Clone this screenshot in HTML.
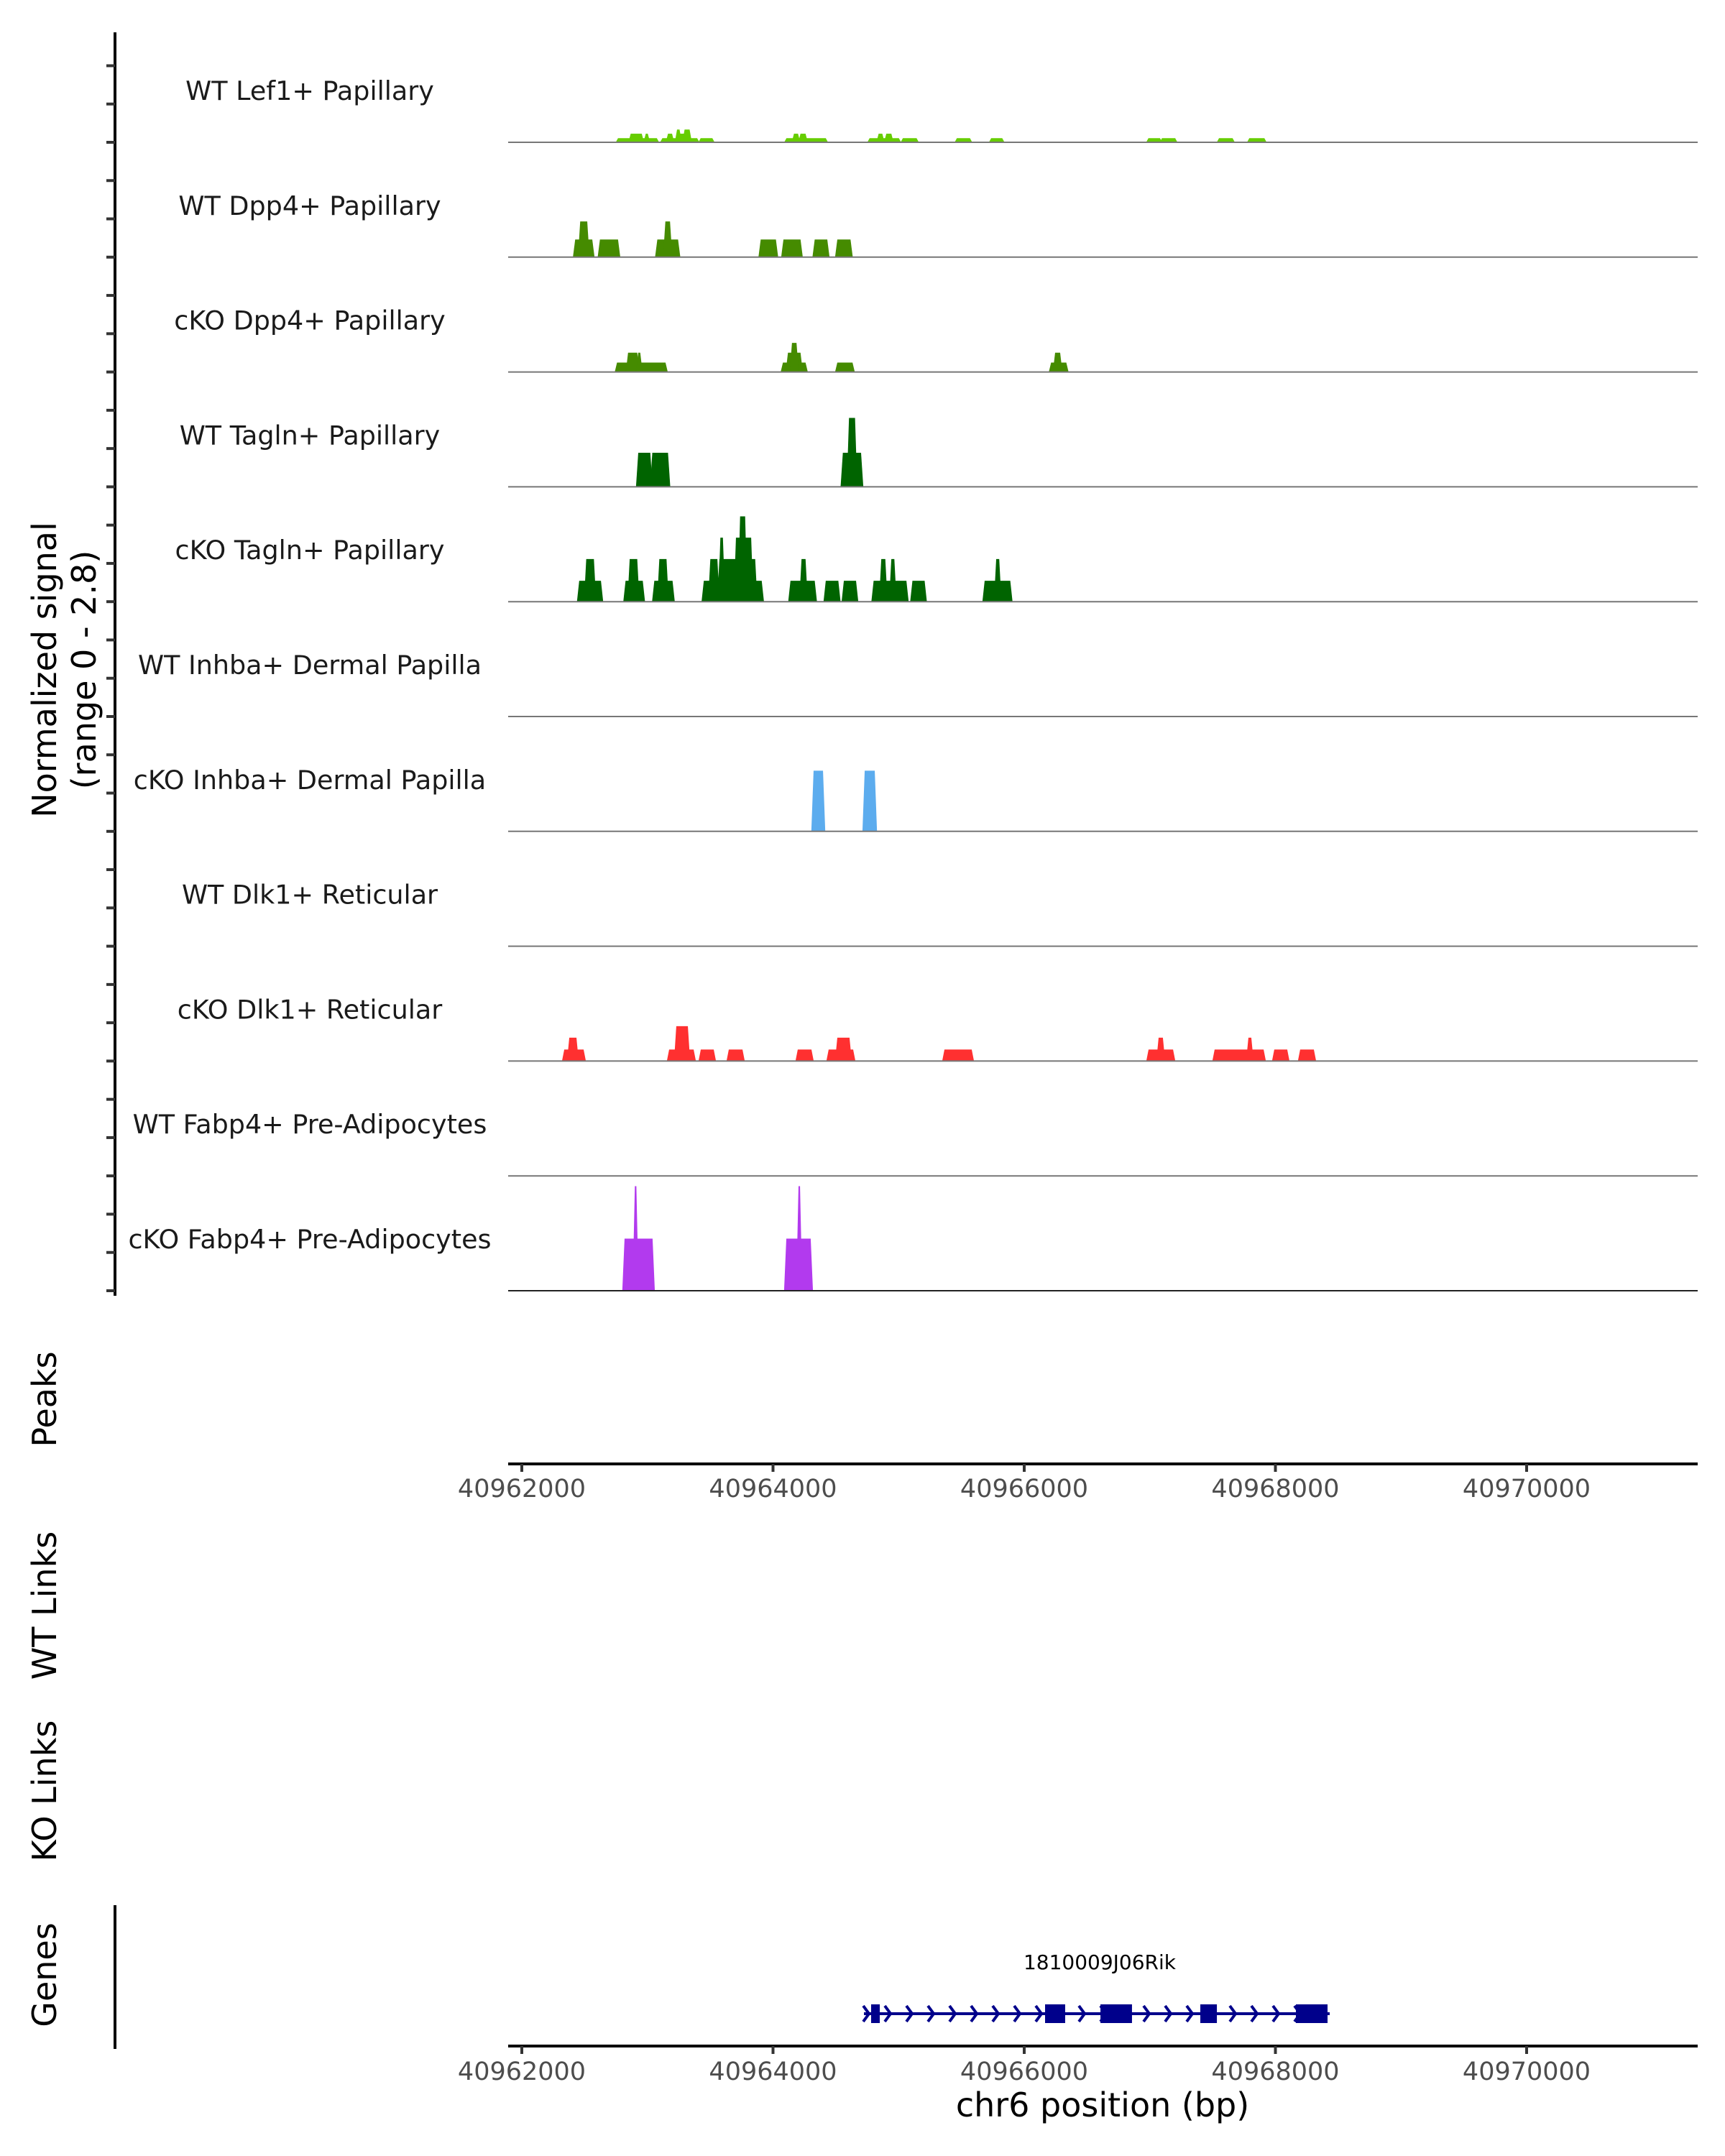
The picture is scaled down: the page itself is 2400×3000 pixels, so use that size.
<!DOCTYPE html>
<html><head><meta charset="utf-8"><style>
html,body{margin:0;padding:0;background:#fff}
svg{display:block}
text{font-family:"DejaVu Sans","Liberation Sans",sans-serif}
</style></head><body>
<svg id="chart" width="2400" height="3000" viewBox="0 0 2400 3000" xmlns="http://www.w3.org/2000/svg">
<rect width="2400" height="3000" fill="#fff"/>
<g id="tracks"></g>
<line x1="160" y1="45" x2="160" y2="1803" stroke="#000" stroke-width="4"/>
<g id="yticks"></g>
<text transform="translate(78,932) rotate(-90)" text-anchor="middle" font-size="46" fill="#000">Normalized signal</text>
<text transform="translate(133,932) rotate(-90)" text-anchor="middle" font-size="46" fill="#000">(range 0 - 2.8)</text>
<text transform="translate(78,1947) rotate(-90)" text-anchor="middle" font-size="46" fill="#000">Peaks</text>
<text transform="translate(78,2234) rotate(-90)" text-anchor="middle" font-size="46" fill="#000">WT Links</text>
<text transform="translate(78,2492) rotate(-90)" text-anchor="middle" font-size="46" fill="#000">KO Links</text>
<text transform="translate(78,2748) rotate(-90)" text-anchor="middle" font-size="46" fill="#000">Genes</text>
<line x1="160" y1="2651" x2="160" y2="2851" stroke="#000" stroke-width="4"/>
<g id="peaksaxis"></g>
<g id="genes"></g>
<g id="genesaxis"></g>
<text x="1534" y="2945" text-anchor="middle" font-size="46" fill="#000">chr6 position (bp)</text>
</svg>
<script>
const trackNames = ["WT Lef1+ Papillary","WT Dpp4+ Papillary","cKO Dpp4+ Papillary","WT Tagln+ Papillary","cKO Tagln+ Papillary","WT Inhba+ Dermal Papilla","cKO Inhba+ Dermal Papilla","WT Dlk1+ Reticular","cKO Dlk1+ Reticular","WT Fabp4+ Pre-Adipocytes","cKO Fabp4+ Pre-Adipocytes"];
const trackColors = ["#66CD00","#458B00","#458B00","#006400","#006400","#7CB5EC","#5CACEE","#E06666","#FF3030","#B23AEE","#B23AEE"];
const lef1 = [[40962766,40963075,.10],[40962867,40962955,.21],[40962987,40963003,.21],[40963119,40963396,.10],[40963164,40963196,.21],[40963236,40963256,.31],[40963256,40963296,.21],[40963296,40963336,.31],[40963424,40963517,.10],[40964107,40964420,.10],[40964167,40964199,.21],[40964219,40964259,.21],[40964769,40965002,.10],[40964841,40964870,.21],[40964902,40964942,.21],[40965034,40965143,.10],[40965464,40965568,.10],[40965737,40965825,.10],[40966989,40967081,.10],[40967097,40967202,.10],[40967551,40967659,.10],[40967792,40967912,.10]];
const wtDpp4 = [[40962425,40962561,.43],[40962465,40962521,.87],[40962622,40962766,.43],[40963079,40963244,.43],[40963143,40963180,.87],[40963902,40964023,.43],[40964083,40964219,.43],[40964332,40964432,.43],[40964512,40964617,.43]];
const koDpp4 = [[40962758,40963144,.23],[40962846,40962919,.47],[40962927,40962943,.47],[40964079,40964259,.23],[40964119,40964219,.47],[40964151,40964187,.71],[40964512,40964633,.23],[40966214,40966335,.23],[40966246,40966286,.47]];
const wtTagln = [[40962927,40963023,.83],[40963039,40963164,.83],[40964556,40964701,.83],[40964605,40964653,1.68]];
const koTagln = [[40962457,40962630,.51],[40962513,40962574,1.04],[40962826,40962963,.51],[40962859,40962919,1.04],[40963055,40963200,.51],[40963095,40963152,1.04],[40963449,40963910,.51],[40963501,40963557,1.04],[40963573,40963858,1.04],[40963581,40963601,1.56],[40963705,40963826,1.56],[40963738,40963778,2.08],[40964139,40964332,.51],[40964227,40964259,1.04],[40964420,40964520,.51],[40964564,40964661,.51],[40964801,40965062,.51],[40964862,40964894,1.04],[40964942,40964966,1.04],[40965110,40965207,.51],[40965685,40965889,.51],[40965777,40965801,1.04]];
const wtInhba = [];
const koInhba = [[40964323,40964398,1.48],[40964730,40964810,1.48]];
const wtDlk1 = [];
const koDlk1 = [[40962338,40962492,.28],[40962378,40962435,.57],[40963173,40963368,.28],[40963230,40963322,.85],[40963425,40963528,.28],[40963648,40963757,.28],[40964197,40964306,.28],[40964443,40964638,.28],[40964512,40964609,.57],[40965365,40965582,.28],[40966990,40967185,.28],[40967070,40967104,.57],[40967516,40967906,.28],[40967785,40967808,.57],[40967991,40968094,.28],[40968197,40968306,.28]];
const wtFabp4 = [];
const koFabp4 = [[40962818,40963041,1.27],[40962860,40962960,1.27],[40962900,40962912,2.55],[40964106,40964300,1.27],[40964150,40964260,1.27],[40964203,40964215,2.55]];
const trackData = [lef1,wtDpp4,koDpp4,wtTagln,koTagln,wtInhba,koInhba,wtDlk1,koDlk1,wtFabp4,koFabp4];
const xTicks = [40962000,40964000,40966000,40968000,40970000];
const geneName = "1810009J06Rik";
const geneSpan = [40964724,40968432];
const exons = [[40964781,40964850],[40966166,40966326],[40966607,40966858],[40967402,40967534],[40968163,40968415]];

const NS="http://www.w3.org/2000/svg";
const X0=707, X1=2362;
function xScale(bp){return 726+(bp-40962000)*0.17475;}
const yMax=2.8, trackH=159.8, base0=198;
function baseY(i){return base0+i*trackH;}
function yScale(v,i){return baseY(i)-v/yMax*trackH;}
function mk(tag,attrs,parent){const e=document.createElementNS(NS,tag);for(const k in attrs)e.setAttribute(k,attrs[k]);parent.appendChild(e);return e;}

const tg=document.getElementById('tracks');
trackNames.forEach((name,i)=>{
  const g=mk('g',{},tg);
  
  
  trackData[i].forEach(seg=>{
    const t=18;
    const xa=xScale(seg[0]-t), xb=xScale(seg[0]), xc=xScale(seg[1]), xd=xScale(seg[1]+t);
    const yb=baseY(i), yt=yScale(seg[2],i);
    const p=mk('polygon',{points:`${xa},${yb} ${xb},${yt} ${xc},${yt} ${xd},${yb}`,fill:trackColors[i]},g);
    
    
  });
  const ln=mk('line',{x1:X0,x2:X1,y1:baseY(i),y2:baseY(i),stroke:i===10?'#222':'#777','stroke-width':2},g);
  
  
  const tx=mk('text',{x:431,y:baseY(i)-59,'text-anchor':'middle','font-size':36.5,fill:'#1a1a1a'},g);
  tx.textContent=name;
  
  
});
const yt=document.getElementById('yticks');
for(let i=0;i<11;i++){for(let k=0;k<3;k++){
  const y=baseY(i)-k*trackH/3;
  const l=mk('line',{x1:148,x2:160,y1:y,y2:y,stroke:'#333','stroke-width':4},yt);
  
  
}}
function drawAxis(gid,y,labelY){
  const g=document.getElementById(gid);
  const l=mk('line',{x1:X0,x2:X1,y1:y,y2:y,stroke:'#000','stroke-width':4},g);
  
  
  xTicks.forEach(v=>{
    const x=xScale(v);
    const t=mk('line',{x1:x,x2:x,y1:y,y2:y+11,stroke:'#333','stroke-width':4},g);
    
    
    const tx=mk('text',{x:x,y:labelY,'text-anchor':'middle','font-size':35,fill:'#4d4d4d'},g);
    tx.textContent=String(v);
    
    
  });
}
drawAxis('peaksaxis',2037,2083);
drawAxis('genesaxis',2847,2894);

const gg=document.getElementById('genes');
const gy=2802;
const gl=mk('line',{x1:xScale(geneSpan[0]),x2:xScale(geneSpan[1]),y1:gy,y2:gy,stroke:'#00008B','stroke-width':4},gg);


for(let x=xScale(geneSpan[0])+4;x<xScale(geneSpan[1])-10;x+=30){
  const c=mk('polyline',{points:`${x-5},${gy-11} ${x+3},${gy} ${x-5},${gy+11}`,fill:'none',stroke:'#00008B','stroke-width':4},gg);
  
  
}
exons.forEach(e=>{
  const r=mk('rect',{x:xScale(e[0]),y:gy-13,width:xScale(e[1])-xScale(e[0]),height:26,fill:'#00008B'},gg);
  
  
});
const gt=mk('text',{x:1530,y:2740,'text-anchor':'middle','font-size':28,fill:'#000'},gg);
gt.textContent=geneName;


</script>
</body></html>
